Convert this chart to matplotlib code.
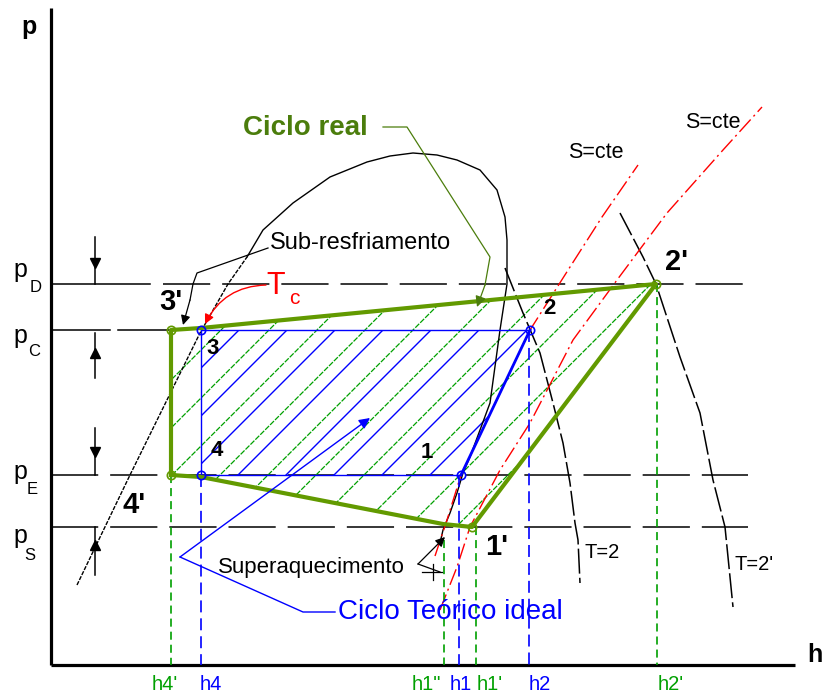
import numpy as np
import matplotlib
matplotlib.use("Agg")
import matplotlib.pyplot as plt
from matplotlib.collections import LineCollection
from matplotlib.patches import Polygon

plt.rcParams['font.family'] = ['Liberation Sans', 'DejaVu Sans']
plt.rcParams['lines.scale_dashes'] = False

# diagram units: h to the right, p upwards
h_axis = 51
p_axis = 30

# pressure levels
p_D = 411
p_C = 365
p_E = 220
p_S = 168
p_levels = [p_D, p_C, p_E, p_S]
p_names = ['D', 'C', 'E', 'S']

# ideal cycle states 1-2-3-4
ideal_h = [461, 530, 201, 201]
ideal_p = [p_E, p_C, p_C, p_E]
ideal_names = ['1', '2', '3', '4']

# real cycle states 1'-2'-3'-4' and the path around them
real_h = [472, 656, 171, 171]
real_p = [p_S, p_D, p_C, p_E]
real_names = ["1'", "2'", "3'", "4'"]
real_path_h = [171, 171, 201, 656, 472, 443, 201, 171]
real_path_p = [220, 365, 367, 411, 168, 171, 218, 220]

# enthalpy marks on the h axis
h_ticks = ["h4'", 'h4', 'h1"', 'h1', "h1'", 'h2', "h2'"]
h_tick_pos = [171, 201, 444, 459, 476, 529, 657]
h_tick_top = [220, 220, 155, 220, 168, 365, 411]
h_tick_kind = ['real', 'ideal', 'real', 'ideal', 'real', 'ideal', 'real']

# saturation dome
dome_h = [77, 130, 200, 228, 247, 263, 293, 330, 367, 390, 413, 437, 457, 480,
          497, 505, 507, 507, 500, 490, 480, 470, 463, 457, 450, 443, 440]
dome_p = [110, 220, 362, 411, 438, 465, 492, 518, 533, 539, 542, 540, 535, 525,
          505, 478, 455, 411, 365, 292, 265, 238, 222, 202, 182, 165, 152]

# isotherms T=2 and T=2'
t2_h = [505, 523, 540, 553, 563, 570, 575, 578, 580]
t2_p = [427, 382, 342, 292, 252, 212, 172, 155, 112]
t2b_h = [620, 643, 656, 680, 700, 713, 725, 727, 733]
t2b_p = [482, 438, 411, 338, 282, 215, 168, 148, 88]

# isentropes
s1_h = [435, 447, 461, 530, 570, 602, 638]
s1_p = [139, 175, 220, 365, 428, 478, 530]
s2_h = [440, 457, 470, 500, 530, 573, 617, 667, 723, 762]
s2_p = [85, 128, 168, 225, 272, 355, 415, 482, 545, 588]

GREEN = '#629a00'
GREEN_TXT = '#4b7d0c'
LGREEN = '#00a000'
BLUE = '#0000ff'
RED = '#ff0000'

fig = plt.figure(figsize=(8.23, 6.95), dpi=100)
ax = fig.add_axes([0, 0, 1, 1])
ax.set_xlim(0, 823)
ax.set_ylim(0, 695)
ax.axis('off')

# axes of the diagram
ax.plot([h_axis, h_axis], [p_axis, 687], color='black', lw=2.3, solid_capstyle='butt')
ax.plot([h_axis, 795], [p_axis, p_axis], color='black', lw=2.3, solid_capstyle='butt')
ax.text(29, 668, 'p', fontsize=18, fontweight='bold', ha='center', va='center')
ax.text(807, 40, 'h', fontsize=18, fontweight='bold', ha='left', va='center')

# pressure lines
dash_p = (0, (34, 8.6))
ax.plot([h_axis, 150], [p_D, p_D], color='black', lw=1.1)
ax.plot([163, 748], [p_D, p_D], color='black', lw=1.1, linestyle=dash_p)
ax.plot([h_axis, 110], [p_C, p_C], color='black', lw=1.1)
ax.plot([118, 171], [p_C, p_C], color='black', lw=1.1)
ax.plot([h_axis, 748], [p_E, p_E], color='black', lw=1.1, linestyle=dash_p)
ax.plot([h_axis, 748], [p_S, p_S], color='black', lw=1.1, linestyle=dash_p)

p_lbl_y = [(425, 407), (359, 343), (223, 205), (159, 139)]
p_sub_x = [36, 34, 32, 30]
for (py, sy), sx, name in zip(p_lbl_y, p_sub_x, p_names):
    ax.text(20, py, 'p', fontsize=18, ha='center', va='center')
    ax.text(sx, sy, name, fontsize=12, ha='center', va='center')

# pressure drop arrows
for top, bot, mp, mk in [(458, p_D, 432, 'v'), (p_C - 3, 317, 342, '^'),
                         (267, p_E, 243, 'v'), (p_S, 120, 150, '^')]:
    ax.plot([95, 95], [top, bot], color='black', lw=1.1)
    ax.plot(95, mp, marker=mk, color='black', ms=7)

# green hatch of the real cycle
hatch_c = np.arange(-700, 400, 48)
green_poly = Polygon(np.column_stack([real_path_h, real_path_p]), closed=True,
                     facecolor='none', edgecolor='none')
ax.add_patch(green_poly)
segs = [[(0, c + 28), (823, 823 + c + 28)] for c in hatch_c]
lc = LineCollection(segs, colors=LGREEN, linewidths=0.9, linestyles=(0, (4, 1)))
lc.set_clip_path(green_poly)
ax.add_collection(lc)

# blue hatch of the ideal cycle
ideal_order = [2, 1, 0, 3]
blue_poly = Polygon(np.column_stack([[ideal_h[i] for i in ideal_order],
                                     [ideal_p[i] for i in ideal_order]]),
                    closed=True, facecolor='none', edgecolor='none')
ax.add_patch(blue_poly)
segs = [[(0, c + 58), (823, 823 + c + 58)] for c in hatch_c]
lc = LineCollection(segs, colors=BLUE, linewidths=1.0)
lc.set_clip_path(blue_poly)
ax.add_collection(lc)

# saturation dome
ax.plot(dome_h[:5], dome_p[:5], color='black', lw=1.0, linestyle=(0, (3, 1)))
ax.plot(dome_h[4:], dome_p[4:], color='black', lw=1.0)

# isotherms
ax.plot(t2_h, t2_p, color='black', lw=1.1, linestyle=(0, (18, 3)))
ax.text(585, 142, 'T=2', fontsize=14.5, ha='left', va='center')
ax.plot(t2b_h, t2b_p, color='black', lw=1.1, linestyle=(0, (18, 3)))
ax.text(735, 130, "T=2'", fontsize=14.5, ha='left', va='center')

# isentropes
ax.plot(s1_h, s1_p, color=RED, lw=1.0, linestyle=(0, (12, 3, 1.5, 3)))
ax.plot(s2_h, s2_p, color=RED, lw=1.0, linestyle=(0, (12, 3, 1.5, 3)))
ax.text(596, 542, 'S=cte', fontsize=15.5, ha='center', va='center')
ax.text(713, 573, 'S=cte', fontsize=15.5, ha='center', va='center')

# vertical enthalpy guides and labels
for lbl, hx, top, kind in zip(h_ticks, h_tick_pos, h_tick_top, h_tick_kind):
    if kind == 'real':
        ax.plot([hx, hx], [top, p_axis], color=LGREEN, lw=1.2, linestyle=(0, (5.8, 3.6)))
    else:
        ax.plot([hx, hx], [top, p_axis], color=BLUE, lw=1.2, linestyle=(0, (8.6, 4.3)))
h_lbl_x = [165, 211, 426, 461, 490, 540, 671]
for lbl, lx, kind in zip(h_ticks, h_lbl_x, h_tick_kind):
    ax.text(lx, 11, lbl, fontsize=14.5, ha='center', va='center',
            color=LGREEN if kind == 'real' else BLUE)

# ideal cycle outline
ax.plot([ideal_h[2], ideal_h[1]], [ideal_p[2], ideal_p[1]], color=BLUE, lw=1.0)
ax.plot([ideal_h[3], ideal_h[0]], [ideal_p[3], ideal_p[0]], color=BLUE, lw=1.0)
ax.plot([ideal_h[3], ideal_h[2]], [ideal_p[3], ideal_p[2]], color=BLUE, lw=1.0)
ax.plot([ideal_h[0], ideal_h[1]], [ideal_p[0], ideal_p[1]], color=BLUE, lw=2.0)

# real cycle outline
ax.plot(real_path_h, real_path_p, color=GREEN, lw=3.0, solid_joinstyle='round')

ax.plot(ideal_h, ideal_p, 'o', ms=6, mfc='none', mec=BLUE, mew=1.2)
ax.plot(real_h, real_p, 'o', ms=6, mfc='none', mec=GREEN, mew=1.2)

ideal_lbl = [(427, 242), (549, 387), (213, 347), (217, 245)]
for (lx, ly), name in zip(ideal_lbl, ideal_names):
    ax.text(lx, ly, name, fontsize=16, fontweight='bold', ha='center', va='center')
real_lbl = [(497, 148), (677, 433), (171, 393), (134, 190)]
for (lx, ly), name in zip(real_lbl, real_names):
    ax.text(lx, ly, name, fontsize=21, fontweight='bold', ha='center', va='center')

# annotations
ax.text(305, 567, 'Ciclo real', fontsize=20, fontweight='bold', color=GREEN_TXT,
        ha='center', va='center')
ax.plot([383, 407, 490, 485], [568, 568, 438, 410], color=GREEN_TXT, lw=0.9)
ax.annotate('', xy=(477, 388), xytext=(485, 410),
            arrowprops=dict(arrowstyle='-|>', color=GREEN_TXT, lw=0.9,
                            mutation_scale=16, shrinkA=0, shrinkB=0))

ax.text(270, 452, 'Sub-resfriamento', fontsize=17, ha='left', va='center')
ax.plot([268, 197, 193, 190], [447, 422, 411, 395], color='black', lw=0.9)
ax.annotate('', xy=(183, 370), xytext=(190, 395),
            arrowprops=dict(arrowstyle='-|>', color='black', lw=0.9,
                            mutation_scale=14, shrinkA=0, shrinkB=0))

ax.text(276, 409, 'T', fontsize=22, color=RED, ha='center', va='center')
ax.text(294, 397, 'c', fontsize=15, color=RED, ha='center', va='center')
ax.annotate('', xy=(205, 371), xytext=(266, 410),
            arrowprops=dict(arrowstyle='-|>', color=RED, lw=1.0, mutation_scale=14,
                            shrinkA=0, shrinkB=0, connectionstyle='arc3,rad=0.3'))

ax.text(218, 127, 'Superaquecimento', fontsize=16, ha='left', va='center')
ax.annotate('', xy=(445, 158), xytext=(418, 131),
            arrowprops=dict(arrowstyle='-|>', color='black', lw=0.9,
                            mutation_scale=14, shrinkA=0, shrinkB=0))
ax.plot([418, 440], [131, 123], color='black', lw=0.9)
ax.plot([422, 442], [123, 123], color='black', lw=0.9)
ax.plot([433, 433], [131, 115], color='black', lw=0.9)

ax.text(338, 83, 'Ciclo Teórico ideal', fontsize=20, color=BLUE, ha='left', va='center')
ax.plot([335, 303, 180], [83, 83, 138], color=BLUE, lw=1.0)
ax.annotate('', xy=(370, 277), xytext=(180, 138),
            arrowprops=dict(arrowstyle='-|>', color=BLUE, lw=1.0,
                            mutation_scale=16, shrinkA=0, shrinkB=0))

fig.savefig('out.png', dpi=100)
